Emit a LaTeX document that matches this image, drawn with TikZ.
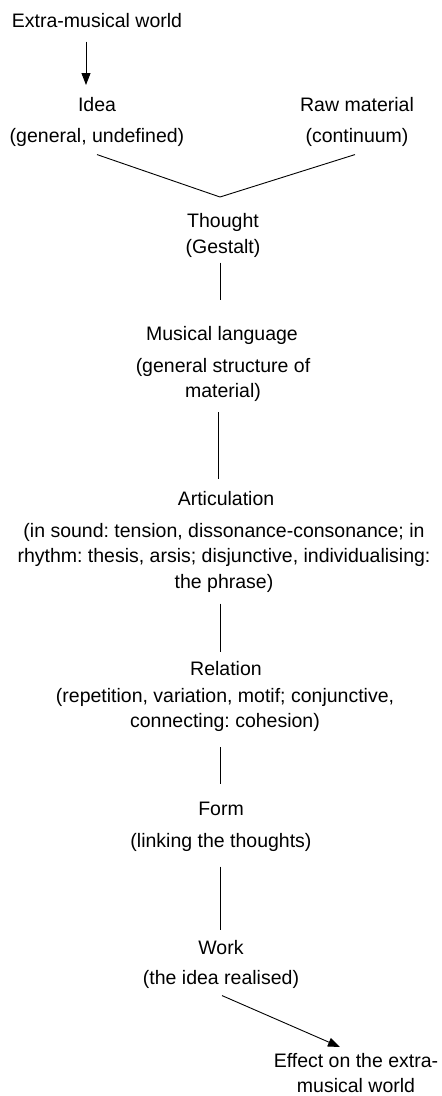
\documentclass[tikz,border=0pt]{standalone}
\usepackage{fontspec}
\setmainfont{Liberation Sans}
\usetikzlibrary{arrows.meta}
\tikzset{
    lbl/.style = {font=\fontsize{19.5}{25.5}\selectfont\frenchspacing, inner sep=0pt, align=center, anchor=north},
    link/.style = {line width=0.9pt},
    flow/.style = {line width=0.9pt, -{Triangle[width=9pt,length=12pt]}}
}
\begin{document}
\begin{tikzpicture}[x=1pt,y=-1pt]
            \useasboundingbox (0,0) rectangle (442,1096);
            \node[lbl] (extra) at (97,13) {Extra-musical world};
            \node[lbl] (idea) at (97,97) {Idea};
            \node[lbl] (ideadesc) at (97,128) {(general, undefined)};
            \node[lbl] (raw) at (357,97) {Raw material};
            \node[lbl] (rawdesc) at (357,128) {(continuum)};
            \coordinate (join) at (220,197);
            \node[lbl] (thought) at (223,213) {Thought};
            \node[lbl] (gestalt) at (223,239) {(Gestalt)};
            \node[lbl] (language) at (222,326) {Musical language};
            \node[lbl] (languagedesc) at (223,358) {(general structure of\\material)};
            \node[lbl] (artic) at (226,491) {Articulation};
            \node[lbl] (articdesc) at (224,523) {(in sound: tension, dissonance-consonance; in\\rhythm: thesis, arsis; disjunctive, individualising:\\the phrase)};
            \node[lbl] (relation) at (226,661) {Relation};
            \node[lbl] (relationdesc) at (225,688) {(repetition, variation, motif; conjunctive,\\connecting: cohesion)};
            \node[lbl] (form) at (221,802) {Form};
            \node[lbl] (formdesc) at (221,833) {(linking the thoughts)};
            \node[lbl] (work) at (221,940) {Work};
            \node[lbl] (workdesc) at (221,970) {(the idea realised)};
            \node[lbl] (effect) at (356,1053) {Effect on the extra-\\musical world};

            \draw[flow] ([xshift=-11pt,yshift=-14pt]extra.south) -- ([xshift=-11pt,yshift=12pt]idea.north);
            \draw[link] ([yshift=-8pt]ideadesc.south) -- (join) -- ([xshift=-2pt,yshift=-8pt]rawdesc.south);
            \draw[link] ([xshift=-3pt,yshift=-5pt]gestalt.south) -- ([xshift=-2pt,yshift=26pt]language.north);
            \draw[link] ([xshift=-5pt,yshift=-10pt]languagedesc.south) -- ([xshift=-8pt,yshift=12pt]artic.north);
            \draw[link] ([xshift=-4pt,yshift=-11pt]articdesc.south) -- ([xshift=-6pt,yshift=9pt]relation.north);
            \draw[link] ([xshift=-5pt,yshift=-15pt]relationdesc.south) -- ([xshift=-1pt,yshift=18pt]form.north);
            \draw[link] ([xshift=-1pt,yshift=-15pt]formdesc.south) -- ([xshift=-1pt,yshift=10pt]work.north);
            \draw[flow] ([xshift=1pt,yshift=-7pt]workdesc.south) -- ([xshift=-16pt,yshift=6pt]effect.north);
\end{tikzpicture}
\end{document}
